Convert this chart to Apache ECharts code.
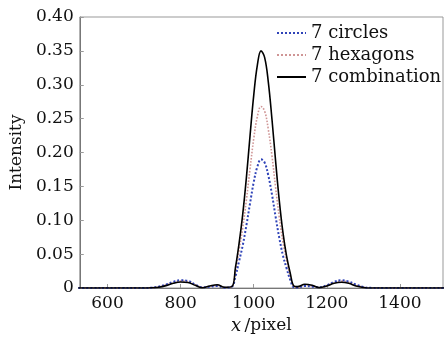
<!DOCTYPE html>
<html><head><meta charset="utf-8">
<script src="https://cdn.jsdelivr.net/npm/echarts@6/dist/echarts.min.js"></script>
<style>html,body{margin:0;padding:0;background:#fff}#c{width:444px;height:340px}</style>
</head><body><div id="c"></div>
<script>
const xs = [520,560,600,640,680,700,720,740,760,780,800,820,840,860,880,900,920,940,950,960,970,980,990,1000,1010,1020,1030,1040,1050,1060,1070,1080,1090,1100,1110,1120,1140,1160,1180,1200,1220,1240,1260,1280,1300,1320,1360,1400,1440,1480,1530];
const circles = [0,0,0,0,0,0,0.0005,0.002,0.005,0.009,0.0115,0.0105,0.005,0.001,0.002,0.003,0.0005,0.002,0.017,0.0395,0.063,0.0925,0.125,0.156,0.179,0.19,0.185,0.166,0.138,0.105,0.074,0.048,0.029,0.012,0.001,0.0008,0.003,0.002,0.001,0.004,0.009,0.0115,0.0095,0.005,0.0015,0.0002,0,0,0,0,0];
const hexagons = [0,0,0,0,0,0,0.0004,0.0018,0.0045,0.008,0.0102,0.0095,0.0048,0.001,0.0025,0.0038,0.0008,0.002,0.025,0.056,0.089,0.130,0.176,0.220,0.253,0.268,0.261,0.234,0.195,0.148,0.104,0.068,0.041,0.017,0.002,0.001,0.004,0.003,0.0008,0.0035,0.008,0.0102,0.0085,0.0045,0.0012,0.0002,0,0,0,0,0];
const combination = [0,0,0,0,0,0,0.0003,0.0012,0.0035,0.007,0.0088,0.008,0.004,0.0003,0.003,0.0048,0.001,0.002,0.03,0.066,0.109,0.163,0.225,0.284,0.329,0.35,0.34,0.304,0.249,0.187,0.129,0.082,0.047,0.022,0.003,0.002,0.0055,0.004,0.0005,0.003,0.007,0.0085,0.007,0.003,0.0008,0,0,0,0,0,0];
const xTicks = [600,800,1000,1200,1400];
const names = ['7 circles','7 hexagons','7 combination'];

const font = 'DejaVu Serif';
const pair = arr => xs.map((x,i)=>[x,arr[i]]);
const chart = echarts.init(document.getElementById('c'));
chart.setOption({
  animation:false,
  grid:{left:77,right:1,top:17,bottom:44,show:true,borderColor:'#999',borderWidth:1},
  legend:{left:276,top:24,padding:0,orient:'vertical',itemWidth:29,itemHeight:12,itemGap:4,
    itemStyle:{opacity:0},
    textStyle:{fontFamily:font,fontSize:18,color:'#111'},data:names},
  xAxis:{type:'value',min:524,max:1518,
    axisLine:{lineStyle:{color:'#777'}},
    axisTick:{inside:true,length:4,customValues:xTicks,lineStyle:{color:'#999'}},
    axisLabel:{customValues:xTicks,fontFamily:font,fontSize:17,color:'#111',margin:7,formatter:v=>String(v)},
    splitLine:{show:false},
    name:'{i|x} {n|/pixel}',nameLocation:'middle',nameGap:29,
    nameTextStyle:{rich:{i:{fontFamily:font,fontStyle:'italic',fontSize:18,color:'#111'},n:{fontFamily:font,fontSize:17,color:'#111'}}}},
  yAxis:{type:'value',min:0,max:0.4,interval:0.05,
    axisLine:{show:true,lineStyle:{color:'#777'}},
    axisTick:{show:true,inside:true,length:4,lineStyle:{color:'#999'}},
    axisLabel:{fontFamily:font,fontSize:17,color:'#111',margin:6,formatter:v=>v===0?'0':v.toFixed(2)},
    splitLine:{show:false},
    name:'Intensity',nameLocation:'middle',nameGap:50,
    nameTextStyle:{fontFamily:font,fontSize:17,color:'#111'}},
  series:[
    {name:names[0],type:'line',smooth:0.4,symbol:'none',data:pair(circles),z:3,
      lineStyle:{color:'#2f43b8',width:2,type:'dotted'},itemStyle:{color:'#2f43b8'}},
    {name:names[1],type:'line',smooth:0.4,symbol:'none',data:pair(hexagons),z:2,
      lineStyle:{color:'#cf9595',width:1.6,type:'dotted'},itemStyle:{color:'#cf9595'}},
    {name:names[2],type:'line',smooth:0.4,symbol:'none',data:pair(combination),z:4,
      lineStyle:{color:'#000',width:1.6},itemStyle:{color:'#000'}}
  ]
});
</script></body></html>
